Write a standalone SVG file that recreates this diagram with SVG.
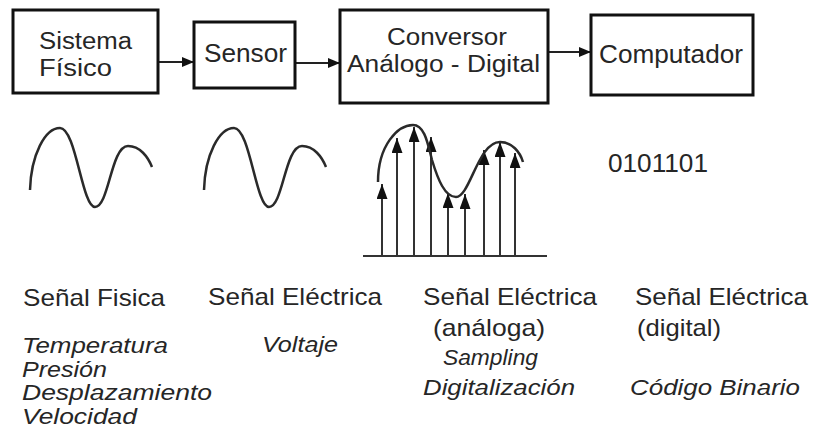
<svg xmlns="http://www.w3.org/2000/svg" width="815" height="437" viewBox="0 0 815 437">
<defs>
<style>
.box{fill:#fff;stroke:#111;stroke-width:3}
.t{font-family:"Liberation Sans",Arial,sans-serif;fill:#262626}
.top{font-size:25px}
.sf{font-size:23px}
.lab{font-size:24px}
.it{font-size:22.5px;font-style:italic}
.con{stroke:#222;stroke-width:2;fill:none}
.wave{stroke:#2a2a2a;stroke-width:2.5;fill:none}
.samp{stroke:#333;stroke-width:2;fill:none}
</style>
<marker id="ah" markerUnits="userSpaceOnUse" markerWidth="12" markerHeight="10" viewBox="0 0 12 10" refX="12" refY="5" orient="auto">
<path d="M0,0 L12,5 L0,10 z" fill="#111"/>
</marker>
<marker id="sh" markerUnits="userSpaceOnUse" markerWidth="15" markerHeight="11" viewBox="0 0 15 11" refX="15" refY="5.5" orient="auto">
<path d="M0,0 L15,5.5 L0,11 z" fill="#111"/>
</marker>
</defs>
<rect width="815" height="437" fill="#fff"/>

<g id="connectors">
<line class="con" x1="158" y1="62" x2="194" y2="62" marker-end="url(#ah)"/>
<line class="con" x1="295" y1="63" x2="340" y2="63" marker-end="url(#ah)"/>
<line class="con" x1="548" y1="52" x2="591" y2="52" marker-end="url(#ah)"/>
</g>

<g id="sistema-fisico">
<rect class="box" x="13" y="10" width="145" height="83"/>
<text class="t sf" x="39" y="49" textLength="93" lengthAdjust="spacingAndGlyphs">Sistema</text>
<text class="t sf" x="39" y="76" textLength="73" lengthAdjust="spacingAndGlyphs">Físico</text>
</g>

<g id="sensor">
<rect class="box" x="194" y="22" width="101" height="66"/>
<text class="t top" x="204" y="62" textLength="83" lengthAdjust="spacingAndGlyphs">Sensor</text>
</g>

<g id="conversor">
<rect class="box" x="340" y="10" width="208" height="93"/>
<text class="t sf" x="387" y="45" textLength="120" lengthAdjust="spacingAndGlyphs">Conversor</text>
<text class="t sf" x="347" y="72" textLength="193" lengthAdjust="spacingAndGlyphs">Análogo - Digital</text>
</g>

<g id="computador">
<rect class="box" x="591" y="15" width="162" height="80"/>
<text class="t top" x="599" y="63" textLength="144" lengthAdjust="spacingAndGlyphs">Computador</text>
</g>

<g id="signal-fisica">
<path class="wave" d="M30,190 C31,155 45,128 60,128 C76,128 82,207 95,207 C109,207 111,146 128,146 C140,146 148,157 152,167"/>
<text class="t lab" x="23" y="306" textLength="142" lengthAdjust="spacingAndGlyphs">Señal Fisica</text>
<text class="t it" x="22" y="353" textLength="146" lengthAdjust="spacingAndGlyphs">Temperatura</text>
<text class="t it" x="22" y="377" textLength="85" lengthAdjust="spacingAndGlyphs">Presión</text>
<text class="t it" x="22" y="400" textLength="190" lengthAdjust="spacingAndGlyphs">Desplazamiento</text>
<text class="t it" x="22" y="424" textLength="115" lengthAdjust="spacingAndGlyphs">Velocidad</text>
</g>

<g id="signal-electrica">
<path class="wave" transform="translate(174,0)" d="M30,190 C31,155 45,128 60,128 C76,128 82,207 95,207 C109,207 111,146 128,146 C140,146 148,157 152,167"/>
<text class="t lab" x="208" y="305" textLength="174" lengthAdjust="spacingAndGlyphs">Señal Eléctrica</text>
<text class="t it" x="262" y="352" textLength="76" lengthAdjust="spacingAndGlyphs">Voltaje</text>
</g>

<g id="signal-muestreo">
<line class="samp" x1="363" y1="256" x2="547" y2="256"/>
<line class="samp" x1="382" y1="256" x2="382" y2="184" marker-end="url(#sh)"/>
<line class="samp" x1="397" y1="256" x2="397" y2="138" marker-end="url(#sh)"/>
<line class="samp" x1="414" y1="256" x2="414" y2="127" marker-end="url(#sh)"/>
<line class="samp" x1="431" y1="256" x2="431" y2="137" marker-end="url(#sh)"/>
<line class="samp" x1="448" y1="256" x2="448" y2="193" marker-end="url(#sh)"/>
<line class="samp" x1="465" y1="256" x2="465" y2="194" marker-end="url(#sh)"/>
<line class="samp" x1="484" y1="256" x2="484" y2="150" marker-end="url(#sh)"/>
<line class="samp" x1="500" y1="256" x2="500" y2="142" marker-end="url(#sh)"/>
<line class="samp" x1="515" y1="256" x2="515" y2="153" marker-end="url(#sh)"/>
<path class="wave" d="M378,182 C378,145 398,125 413,125 C425,125 428,145 432,160 C438,180 445,197 456,197 C470,197 478,142 500,142 C512,142 520,152 523,162"/>
<text class="t lab" x="423" y="305" textLength="174" lengthAdjust="spacingAndGlyphs">Señal Eléctrica</text>
<text class="t lab" x="433" y="336" textLength="112" lengthAdjust="spacingAndGlyphs">(análoga)</text>
<text class="t it" x="443" y="365" textLength="95" lengthAdjust="spacingAndGlyphs">Sampling</text>
<text class="t it" x="423" y="395" textLength="152" lengthAdjust="spacingAndGlyphs">Digitalización</text>
</g>

<g id="signal-digital">
<text class="t top" x="608" y="172" textLength="100" lengthAdjust="spacingAndGlyphs">0101101</text>
<text class="t lab" x="635" y="305" textLength="173" lengthAdjust="spacingAndGlyphs">Señal Eléctrica</text>
<text class="t lab" x="637" y="336" textLength="84" lengthAdjust="spacingAndGlyphs">(digital)</text>
<text class="t it" x="630" y="395" textLength="170" lengthAdjust="spacingAndGlyphs">Código Binario</text>
</g>
</svg>
